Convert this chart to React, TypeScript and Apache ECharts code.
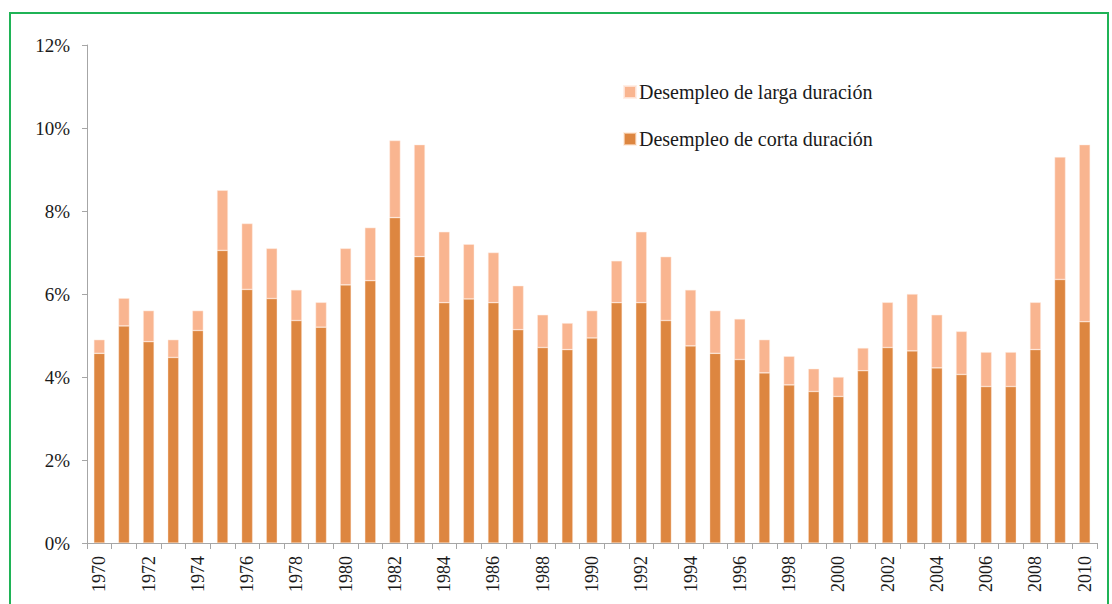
import React, { useEffect, useRef } from "react";
import * as echarts from "echarts";

const years: string[] = [
  "1970","1971","1972","1973","1974","1975","1976","1977","1978","1979",
  "1980","1981","1982","1983","1984","1985","1986","1987","1988","1989",
  "1990","1991","1992","1993","1994","1995","1996","1997","1998","1999",
  "2000","2001","2002","2003","2004","2005","2006","2007","2008","2009","2010",
];

// Desempleo de corta duración (%)
const shortTerm: number[] = [
  4.57, 5.23, 4.85, 4.47, 5.12, 7.05, 6.11, 5.89, 5.36, 5.2,
  6.22, 6.32, 7.84, 6.9, 5.79, 5.88, 5.79, 5.14, 4.71, 4.66,
  4.94, 5.79, 5.79, 5.36, 4.75, 4.57, 4.42, 4.1, 3.81, 3.65,
  3.53, 4.15, 4.71, 4.63, 4.22, 4.06, 3.77, 3.77, 4.66, 6.35, 5.33,
];

// Desempleo de larga duración (%)
const longTerm: number[] = [
  0.33, 0.67, 0.75, 0.43, 0.48, 1.45, 1.59, 1.21, 0.74, 0.6,
  0.88, 1.28, 1.86, 2.7, 1.71, 1.32, 1.21, 1.06, 0.79, 0.64,
  0.66, 1.01, 1.71, 1.54, 1.35, 1.03, 0.98, 0.8, 0.69, 0.55,
  0.47, 0.55, 1.09, 1.37, 1.28, 1.04, 0.83, 0.83, 1.14, 2.95, 4.27,
];

const seriesNames: string[] = ["Desempleo de corta duración", "Desempleo de larga duración"];
const legendOrder: string[] = ["Desempleo de larga duración", "Desempleo de corta duración"];

const FONT = "Liberation Serif";

export default function App() {
  const ref = useRef<HTMLDivElement>(null);

  useEffect(() => {
    if (!ref.current) return;
    const chart = echarts.init(ref.current, undefined, { renderer: "svg" });
    chart.setOption({
      animation: false,
      backgroundColor: "#ffffff",
      textStyle: { fontFamily: FONT },
      grid: { left: 87, right: 15, top: 45, bottom: 61, containLabel: false },
      legend: {
        data: legendOrder,
        orient: "vertical",
        left: 618,
        top: 77,
        itemWidth: 12,
        itemHeight: 12,
        itemGap: 27,
        icon: "rect",
        textStyle: { fontFamily: FONT, fontSize: 20, color: "#1a1a1a", padding: [0, 0, 0, -2] },
      },
      xAxis: {
        type: "category",
        data: years,
        boundaryGap: true,
        axisLine: { lineStyle: { color: "#a6a6a6", width: 1 } },
        axisTick: { show: true, interval: 0, length: 6, lineStyle: { color: "#a6a6a6" } },
        axisLabel: {
          interval: 1,
          rotate: 90,
          margin: 13,
          fontFamily: FONT,
          fontSize: 18,
          color: "#1a1a1a",
        },
        splitLine: { show: false },
      },
      yAxis: {
        type: "value",
        min: 0,
        max: 12,
        interval: 2,
        axisLine: { show: true, lineStyle: { color: "#a6a6a6", width: 1 } },
        axisTick: { show: true, length: 5, lineStyle: { color: "#a6a6a6" } },
        axisLabel: {
          formatter: "{value}%",
          margin: 17,
          fontFamily: FONT,
          fontSize: 19,
          color: "#1a1a1a",
        },
        splitLine: { show: false },
      },
      series: [
        {
          name: seriesNames[0],
          type: "bar",
          stack: "total",
          data: shortTerm,
          barWidth: 11,
          itemStyle: { color: "#DD8640", borderColor: "rgba(255,230,210,0.6)", borderWidth: 0.6 },
        },
        {
          name: seriesNames[1],
          type: "bar",
          stack: "total",
          data: longTerm,
          barWidth: 11,
          itemStyle: { color: "#F9B590", borderColor: "rgba(255,235,225,0.8)", borderWidth: 0.6 },
        },
      ],
    });
    return () => chart.dispose();
  }, []);

  return (
    <div
      style={{
        position: "fixed",
        left: 0,
        top: 0,
        width: 1112,
        height: 604,
        overflow: "hidden",
        background: "#ffffff",
      }}
    >
      <div ref={ref} style={{ position: "absolute", left: 0, top: 0, width: 1112, height: 604 }} />
      <div
        style={{
          position: "absolute",
          left: 9,
          top: 12,
          width: 1096,
          height: 700,
          border: "2px solid #1fb356",
          pointerEvents: "none",
          boxSizing: "content-box",
        }}
      />
    </div>
  );
}
